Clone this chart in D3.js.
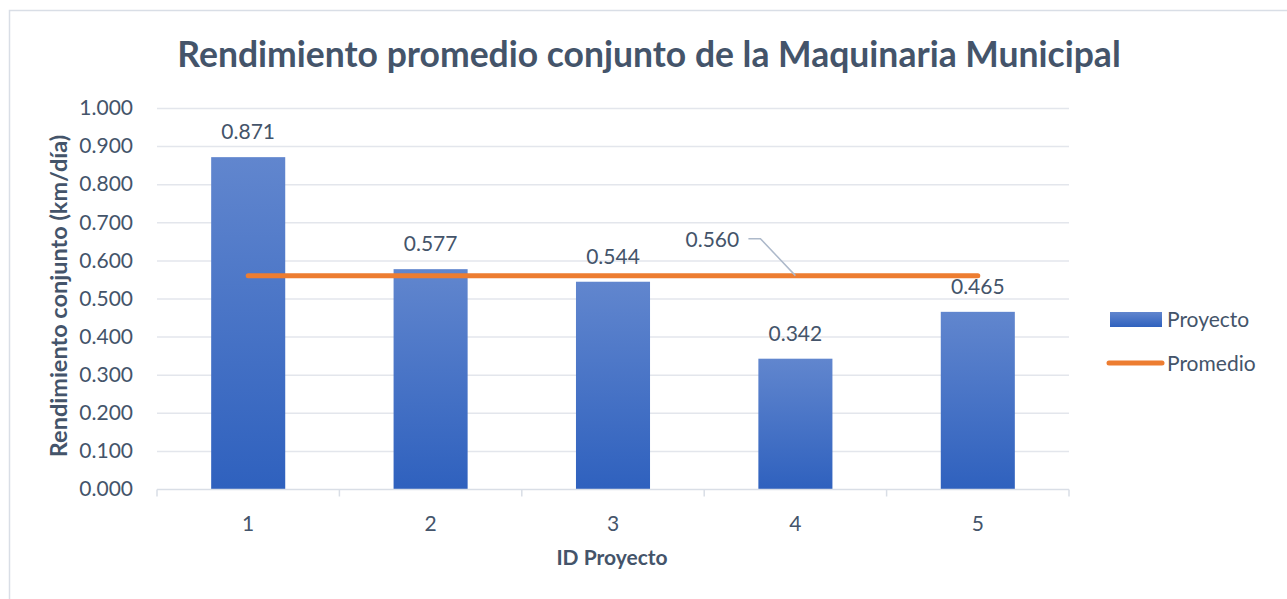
<!DOCTYPE html>
<html>
<head>
<meta charset="utf-8">
<script src="https://cdn.jsdelivr.net/npm/d3@7"></script>
<style>
  body { margin: 0; background: #fff; }
  text { font-family: Lato, "Open Sans", sans-serif; fill: #44546A; }
</style>
</head>
<body>
<script>
// chart data
var proyectos = ['1', '2', '3', '4', '5'];
var rendimiento = [0.871, 0.577, 0.544, 0.342, 0.465];
var promedio = [0.560, 0.560, 0.560, 0.560, 0.560];
var yTicks = [0, 0.1, 0.2, 0.3, 0.4, 0.5, 0.6, 0.7, 0.8, 0.9, 1.0];

var W = 1287, H = 599;
var svg = d3.select('body').append('svg').attr('width', W).attr('height', H);

var grad = svg.append('defs').append('linearGradient')
    .attr('id', 'barGrad').attr('x1', 0).attr('y1', 0).attr('x2', 0).attr('y2', 1);
grad.append('stop').attr('offset', '0%').attr('stop-color', '#6186CE');
grad.append('stop').attr('offset', '100%').attr('stop-color', '#2F61BE');

// frame
svg.append('path')
    .attr('d', 'M9.5,' + (H + 2) + 'V10.5H' + (W + 2))
    .attr('fill', 'none').attr('stroke', '#D9DEE6').attr('stroke-width', 1.5);

var pLeft = 157, pRight = 1069, pTop = 108, pBottom = 489;
var fs = 21;

var x = d3.scaleBand().domain(proyectos).range([pLeft, pRight]).paddingInner(0).paddingOuter(0);
var y = d3.scaleLinear().domain([0, 1]).range([pBottom, pTop]);

// title
svg.append('text')
    .attr('x', 649).attr('y', 67)
    .attr('text-anchor', 'middle')
    .attr('font-size', 35.5).attr('font-weight', 'bold')
    .text('Rendimiento promedio conjunto de la Maquinaria Municipal');

// grid lines
svg.append('g').selectAll('line').data(yTicks.slice(1)).enter().append('line')
    .attr('x1', pLeft).attr('x2', pRight)
    .attr('y1', function (d) { return y(d) + 0.5; })
    .attr('y2', function (d) { return y(d) + 0.5; })
    .attr('stroke', '#E3E6EC').attr('stroke-width', 1.5);

// y axis labels
var yAxis = svg.append('g')
    .attr('transform', 'translate(' + (pLeft - 24) + ',0)')
    .call(d3.axisLeft(y).tickValues(yTicks).tickFormat(d3.format('.3f')).tickSize(0));
yAxis.select('.domain').remove();
yAxis.selectAll('text').attr('font-size', fs).attr('fill', '#44546A')
    .attr('text-anchor', 'end').attr('x', 0).attr('font-family', 'Lato, sans-serif');

// bars
svg.append('g').selectAll('rect').data(rendimiento).enter().append('rect')
    .attr('x', function (d, i) { return x(proyectos[i]) + x.bandwidth() * 0.297; })
    .attr('width', x.bandwidth() * 0.406)
    .attr('y', function (d) { return y(d); })
    .attr('height', function (d) { return pBottom - y(d); })
    .attr('fill', 'url(#barGrad)');

// x axis
var xAxis = svg.append('g')
    .attr('transform', 'translate(0,' + (pBottom + 0.5) + ')');
xAxis.append('line').attr('x1', pLeft).attr('x2', pRight)
    .attr('stroke', '#D9DEE6').attr('stroke-width', 1.5);
xAxis.selectAll('.tk').data(proyectos.concat(['end'])).enter().append('line')
    .attr('x1', function (d, i) { return pLeft + i * x.bandwidth(); })
    .attr('x2', function (d, i) { return pLeft + i * x.bandwidth(); })
    .attr('y1', 0).attr('y2', 7)
    .attr('stroke', '#D9DEE6').attr('stroke-width', 1.5);
xAxis.selectAll('text').data(proyectos).enter().append('text')
    .attr('x', function (d) { return x(d) + x.bandwidth() / 2; })
    .attr('y', 41)
    .attr('text-anchor', 'middle').attr('font-size', fs)
    .text(function (d) { return d; });

// bar labels
svg.append('g').selectAll('text').data(rendimiento).enter().append('text')
    .attr('x', function (d, i) { return x(proyectos[i]) + x.bandwidth() / 2; })
    .attr('y', function (d) { return y(d) - 18; })
    .attr('text-anchor', 'middle').attr('font-size', fs)
    .text(function (d) { return d3.format('.3f')(d); });

// average line
var line = d3.line()
    .x(function (d, i) { return x(proyectos[i]) + x.bandwidth() / 2; })
    .y(function (d) { return y(d); });
svg.append('path').datum(promedio)
    .attr('d', line)
    .attr('fill', 'none').attr('stroke', '#ED7D31').attr('stroke-width', 5)
    .attr('stroke-linecap', 'round');

// average label with leader
var px = x(proyectos[3]) + x.bandwidth() / 2, py = y(promedio[3]);
svg.append('polyline')
    .attr('points', [[px, py], [px - 35, py - 37], [px - 47, py - 37]].join(' '))
    .attr('fill', 'none').attr('stroke', '#ADB9CA').attr('stroke-width', 1.5);
svg.append('text')
    .attr('x', px - 83).attr('y', py - 29)
    .attr('text-anchor', 'middle').attr('font-size', fs)
    .text(d3.format('.3f')(promedio[3]));

// axis titles
svg.append('text')
    .attr('x', 612).attr('y', 565)
    .attr('text-anchor', 'middle').attr('font-size', fs).attr('font-weight', 'bold')
    .text('ID Proyecto');
svg.append('text')
    .attr('transform', 'translate(67,296) rotate(-90)')
    .attr('text-anchor', 'middle').attr('font-size', 23.5).attr('font-weight', 'bold')
    .text('Rendimiento conjunto (km/día)');

// legend
var lg = svg.append('g');
lg.append('rect').attr('x', 1110).attr('y', 312).attr('width', 52).attr('height', 15)
    .attr('fill', 'url(#barGrad)');
lg.append('text').attr('x', 1167).attr('y', 327).attr('font-size', fs).text('Proyecto');
lg.append('line').attr('x1', 1109).attr('x2', 1162).attr('y1', 363).attr('y2', 363)
    .attr('stroke', '#ED7D31').attr('stroke-width', 5).attr('stroke-linecap', 'round');
lg.append('text').attr('x', 1167).attr('y', 371).attr('font-size', fs).text('Promedio');
</script>
</body>
</html>
